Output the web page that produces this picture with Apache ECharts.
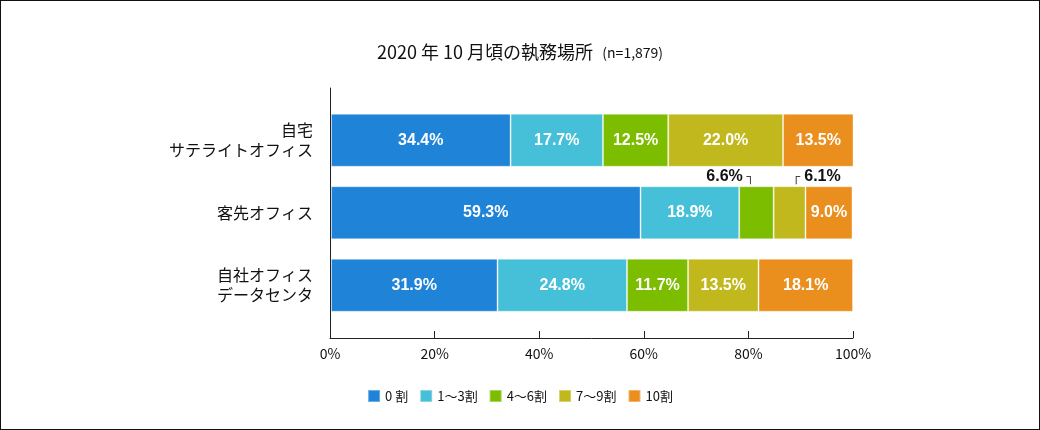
<!DOCTYPE html>
<html>
<head>
<meta charset="utf-8">
<script src="https://cdn.jsdelivr.net/npm/echarts@6/dist/echarts.min.js"></script>
<style>
html,body{margin:0;padding:0;background:#fff;}
#wrap{position:relative;width:1040px;height:430px;}
#chart{width:1040px;height:430px;}
#frame{position:absolute;left:0;top:0;width:1040px;height:430px;box-sizing:border-box;border:1px solid #111;pointer-events:none;}
</style>
</head>
<body>
<div id="wrap"><div id="chart"></div><div id="frame"></div></div>
<script>
// ---- data ----
const categories = ['自宅\nサテライトオフィス', '客先オフィス', '自社オフィス\nデータセンタ'];
const seriesNames = ['0 割', '1〜3割', '4〜6割', '7〜9割', '10割'];
const s0 = [34.4, 59.3, 31.9];
const s1 = [17.7, 18.9, 24.8];
const s2 = [12.5, 6.6, 11.7];
const s3 = [22.0, 6.1, 13.5];
const s4 = [13.5, 9.0, 18.1];
const xTicks = [0, 20, 40, 60, 80, 100];

// ---- styles ----
const colors = ['#1f84d8', '#45c0d8', '#7dbd00', '#c0b81c', '#ea8f1e'];
const allSeries = [s0, s1, s2, s3, s4];
const jp = '"Noto Sans CJK JP", "Noto Sans", sans-serif';
const num = '"Liberation Sans", Arial, sans-serif';

// labels drawn above the bar for narrow segments: key "series-category"
const outside = {
  '2-1': {offset: [-24, 0], fmt: v => '{v|' + v.toFixed(1) + '%}{b|┐}'},
  '3-1': {offset: [25, 0], fmt: v => '{b|┌}{v|' + v.toFixed(1) + '%}'}
};

const series = allSeries.map((arr, si) => ({
  name: seriesNames[si],
  type: 'bar',
  stack: 'total',
  xAxisIndex: 0,
  yAxisIndex: 0,
  barWidth: 53,
  itemStyle: {color: colors[si], borderColor: 'rgba(255,255,255,0.35)', borderWidth: 1},
  label: {
    show: true, position: 'inside', color: '#fff',
    fontFamily: num, fontWeight: 'bold', fontSize: 16,
    formatter: p => p.value.toFixed(1) + '%'
  },
  data: arr.map((v, ci) => {
    const o = outside[si + '-' + ci];
    if (!o) return v;
    return {
      value: v,
      label: {
        show: true, position: 'top', distance: 2, offset: o.offset,
        formatter: () => o.fmt(v),
        rich: {
          v: {fontFamily: num, fontWeight: 'bold', fontSize: 16, color: '#111'},
          b: {fontFamily: 'DejaVu Sans', fontSize: 13, color: '#444', padding: [3, 4, 0, 4]}
        }
      }
    };
  })
}));

// axis frame series (empty) to force grid 1 axes to render
series.push({type: 'bar', xAxisIndex: 1, yAxisIndex: 1, data: [], silent: true});

const chart = echarts.init(document.getElementById('chart'), null, {renderer: 'canvas'});
chart.setOption({
  animation: false,
  backgroundColor: '#fff',
  title: {
    text: '{a|2020 年 10 月頃の執務場所}{s|   (n=1,879)}',
    left: 'center', top: 38,
    textStyle: {
      rich: {
        a: {fontFamily: jp, fontSize: 18, fontWeight: 'normal', color: '#111'},
        s: {fontFamily: jp, fontSize: 14, fontWeight: 'normal', color: '#111', padding: [2, 0, 0, 0]}
      }
    }
  },
  legend: {
    bottom: 22, left: 'center',
    itemWidth: 12, itemHeight: 12, itemGap: 11,
    icon: 'rect',
    textStyle: {fontFamily: jp, fontSize: 13, color: '#111'},
    data: seriesNames
  },
  grid: [
    {left: 331, right: 187, top: 104, height: 217.5},
    {left: 330, right: 187, top: 88, bottom: 92}
  ],
  xAxis: [
    {type: 'value', gridIndex: 0, min: 0, max: 100, show: false},
    {
      type: 'value', gridIndex: 1, min: 0, max: 100, interval: 20,
      axisLine: {show: true, lineStyle: {color: '#222', width: 1}},
      axisTick: {show: true, inside: true, length: 7, lineStyle: {color: '#222'}},
      splitLine: {show: false},
      axisLabel: {
        margin: 9, fontFamily: jp, fontSize: 14, color: '#111',
        formatter: v => xTicks.includes(v) ? v + '%' : ''
      }
    }
  ],
  yAxis: [
    {
      type: 'category', gridIndex: 0, inverse: true, data: categories,
      axisLine: {show: false}, axisTick: {show: false},
      axisLabel: {margin: 18, fontFamily: jp, fontSize: 16, color: '#111', lineHeight: 20, align: 'right'}
    },
    {
      type: 'category', gridIndex: 1, data: ['a'],
      axisLine: {show: true, lineStyle: {color: '#222', width: 1}},
      axisTick: {show: false}, axisLabel: {show: false}
    }
  ],
  series: series
});
</script>
</body>
</html>
